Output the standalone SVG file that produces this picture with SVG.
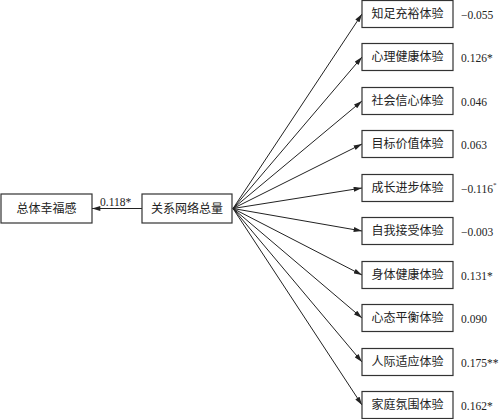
<svg xmlns="http://www.w3.org/2000/svg" width="500" height="419" viewBox="0 0 500 419">
<defs>
<marker id="ah" viewBox="0 0 10 6" refX="10" refY="3" markerWidth="9" markerHeight="5" markerUnits="userSpaceOnUse" orient="auto">
<path d="M0,0 L10,3 L0,6 z" fill="#222"/>
</marker>
<style>
.box{fill:#fff;stroke:#333;stroke-width:1.2}
.lbl{font-family:"Liberation Serif","Noto Sans CJK SC",serif;font-size:12px;fill:#222;text-anchor:middle;dominant-baseline:central}
.val{font-family:"Liberation Serif","Noto Sans CJK SC",serif;font-size:11.5px;fill:#222;dominant-baseline:central}
.ln{stroke:#222;stroke-width:1;fill:none;marker-end:url(#ah)}
</style>
</defs>
<rect width="500" height="419" fill="#fff"/>
<g id="connectors">
<line class="ln" x1="142" y1="208.5" x2="92" y2="208.5"/>
<line class="ln" x1="233" y1="208.5" x2="362" y2="14"/>
<line class="ln" x1="233" y1="208.5" x2="362" y2="57"/>
<line class="ln" x1="233" y1="208.5" x2="362" y2="101"/>
<line class="ln" x1="233" y1="208.5" x2="362" y2="144"/>
<line class="ln" x1="233" y1="208.5" x2="362" y2="188"/>
<line class="ln" x1="233" y1="208.5" x2="362" y2="231"/>
<line class="ln" x1="233" y1="208.5" x2="362" y2="275"/>
<line class="ln" x1="233" y1="208.5" x2="362" y2="318"/>
<line class="ln" x1="233" y1="208.5" x2="362" y2="362"/>
<line class="ln" x1="233" y1="208.5" x2="362" y2="405"/>
<text class="val" x="100" y="202">0.118*</text>
</g>
<g id="n_zongti"><rect class="box" x="1" y="194" width="91" height="29"/><text class="lbl" x="46.5" y="208.5">总体幸福感</text></g>
<g id="n_guanxi"><rect class="box" x="142" y="194" width="90" height="29"/><text class="lbl" x="187" y="208.5">关系网络总量</text></g>
<g id="n1"><rect class="box" x="362" y="0.5" width="91" height="27"/><text class="lbl" x="407.5" y="14">知足充裕体验</text><text class="val" x="461" y="15">−0.055</text></g>
<g id="n2"><rect class="box" x="362" y="43.5" width="91" height="27"/><text class="lbl" x="407.5" y="57">心理健康体验</text><text class="val" x="461" y="58">0.126*</text></g>
<g id="n3"><rect class="box" x="362" y="87.5" width="91" height="27"/><text class="lbl" x="407.5" y="101">社会信心体验</text><text class="val" x="461" y="102">0.046</text></g>
<g id="n4"><rect class="box" x="362" y="130.5" width="91" height="27"/><text class="lbl" x="407.5" y="144">目标价值体验</text><text class="val" x="461" y="145">0.063</text></g>
<g id="n5"><rect class="box" x="362" y="174.5" width="91" height="27"/><text class="lbl" x="407.5" y="188">成长进步体验</text><text class="val" x="461" y="189">−0.116<tspan font-size="7" dy="-4">*</tspan></text></g>
<g id="n6"><rect class="box" x="362" y="217.5" width="91" height="27"/><text class="lbl" x="407.5" y="231">自我接受体验</text><text class="val" x="461" y="232">−0.003</text></g>
<g id="n7"><rect class="box" x="362" y="261.5" width="91" height="27"/><text class="lbl" x="407.5" y="275">身体健康体验</text><text class="val" x="461" y="276">0.131*</text></g>
<g id="n8"><rect class="box" x="362" y="304.5" width="91" height="27"/><text class="lbl" x="407.5" y="318">心态平衡体验</text><text class="val" x="461" y="319">0.090</text></g>
<g id="n9"><rect class="box" x="362" y="348.5" width="91" height="27"/><text class="lbl" x="407.5" y="362">人际适应体验</text><text class="val" x="461" y="363">0.175**</text></g>
<g id="n10"><rect class="box" x="362" y="391.5" width="91" height="27"/><text class="lbl" x="407.5" y="405">家庭氛围体验</text><text class="val" x="461" y="406">0.162*</text></g>
</svg>
